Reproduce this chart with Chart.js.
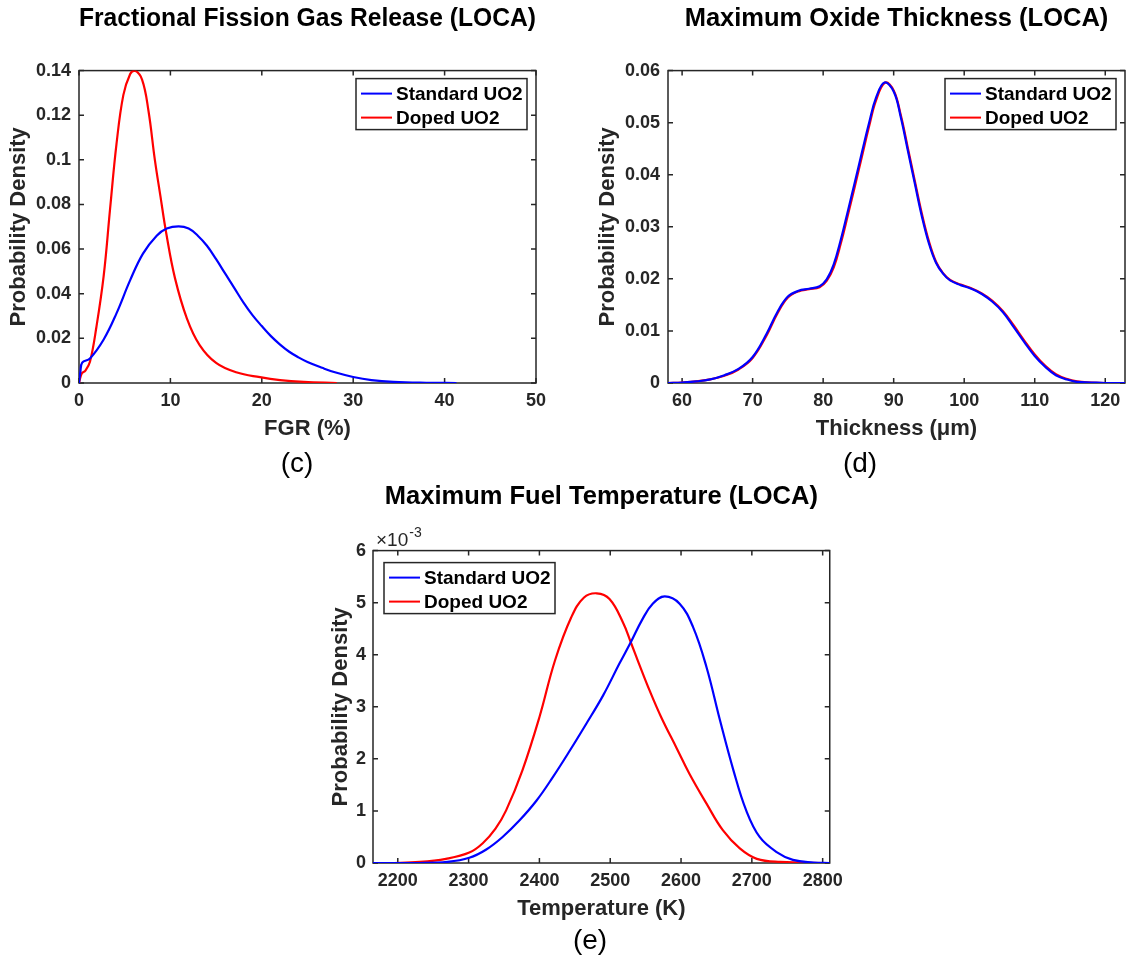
<!DOCTYPE html>
<html>
<head>
<meta charset="utf-8">
<script src="https://cdn.jsdelivr.net/npm/chart.js@4.4.1/dist/chart.umd.min.js"></script>
<style>
  body { margin: 0; background: #fff; }
  #page { position: relative; width: 1128px; height: 961px; font-family: "Liberation Sans", Arial, sans-serif; }
  #page canvas { position: absolute; }
  .tag { position: absolute; font-size: 28px; color: #000; transform: translate(-50%, -50%); }
</style>
</head>
<body>
<div id="page">
  <canvas id="fgrChart" width="560" height="450" style="left:0;top:0"></canvas>
  <canvas id="oxideChart" width="539" height="450" style="left:589px;top:0"></canvas>
  <canvas id="tempChart" width="533" height="460" style="left:317px;top:470px"></canvas>
  <div class="tag" style="left:297px;top:463px">(c)</div>
  <div class="tag" style="left:860px;top:463px">(d)</div>
  <div class="tag" style="left:590px;top:940px">(e)</div>
</div>
<script>
const seriesLabels = ["Standard UO2", "Doped UO2"];

// (c) fission gas release, [FGR %, density]
const fgrStandard = [[0, 0], [0.15, 0.005], [0.35, 0.0091], [1.2, 0.011], [2.7, 0.0195], [4.1, 0.0312],
  [5.6, 0.0461], [7, 0.058], [8.5, 0.066], [9.6, 0.0692], [10.9, 0.0702], [12, 0.0692], [13, 0.066],
  [14, 0.0615], [15, 0.0555], [16, 0.049], [17, 0.0425], [18, 0.036], [19, 0.0303], [20, 0.0255],
  [21, 0.021], [22, 0.0172], [23, 0.014], [24, 0.0115], [25, 0.0094], [26.6, 0.0068], [28, 0.0048],
  [30, 0.0027], [32, 0.0013], [34.4, 0.0005], [38, 0.0001], [41.3, 0]];
const fgrDoped = [[0, 0], [0.3, 0.0043], [0.7, 0.0055], [1.2, 0.0095], [1.9, 0.025], [2.7, 0.048],
  [3.4, 0.078], [4.1, 0.107], [4.85, 0.129], [5.6, 0.1385], [6.1, 0.14], [6.9, 0.136], [7.6, 0.122],
  [8.3, 0.1], [8.9, 0.084], [9.55, 0.067], [10.5, 0.047], [11.8, 0.029], [13.2, 0.017], [15, 0.009],
  [17.2, 0.0048], [19.8, 0.0026], [22, 0.0013], [24.6, 0.0005], [28.2, 0]];
const fgrTicks = [0, 10, 20, 30, 40, 50];
const fgrDensityTicks = [0, 0.02, 0.04, 0.06, 0.08, 0.1, 0.12, 0.14];

// (d) oxide thickness, [um, density]
const oxideStandard = [[58, 0], [60, 0.0001], [62, 0.0003], [64, 0.0007], [66, 0.0015], [68, 0.0027],
  [70, 0.005], [72, 0.0095], [73.5, 0.0136], [75, 0.0166], [76.5, 0.0177], [78, 0.0181], [79.5, 0.0186],
  [80.5, 0.0199], [81.5, 0.0228], [82.5, 0.0275], [83.5, 0.033], [84.5, 0.0386], [85.5, 0.0443],
  [86.5, 0.0499], [87.5, 0.0548], [88.7, 0.0577], [90, 0.056], [91, 0.0511], [92, 0.0447], [93, 0.0383],
  [94, 0.032], [95, 0.0268], [96, 0.0231], [97, 0.021], [98, 0.0197], [99.5, 0.0188], [101, 0.0181],
  [102.5, 0.0171], [104, 0.0156], [105.5, 0.0136], [107, 0.0108], [108.5, 0.0079], [110, 0.0052],
  [111.5, 0.0031], [113, 0.0015], [114.5, 0.0007], [116, 0.0002], [118, 0.0001], [120, 0], [122.8, 0]];
const oxideDoped = [[58, 0], [60, 0.0001], [62, 0.0003], [64, 0.0007], [66, 0.0014], [68, 0.0026],
  [70, 0.0048], [72, 0.0092], [73.5, 0.0133], [75, 0.0164], [76.5, 0.0176], [78, 0.018], [79.5, 0.0184],
  [80.5, 0.0196], [81.5, 0.0222], [82.5, 0.0268], [83.5, 0.0322], [84.5, 0.0378], [85.5, 0.0435],
  [86.5, 0.0492], [87.5, 0.0543], [88.8, 0.0577], [90, 0.0562], [91, 0.0515], [92, 0.0452], [93, 0.0388],
  [94, 0.0325], [95, 0.0272], [96, 0.0233], [97, 0.0211], [98, 0.0198], [99.5, 0.0189], [101, 0.0182],
  [102.5, 0.0172], [104, 0.0158], [105.5, 0.0138], [107, 0.0111], [108.5, 0.0082], [110, 0.0055],
  [111.5, 0.0033], [113, 0.0017], [114.5, 0.0008], [116, 0.0003], [118, 0.0001], [120, 0], [122.8, 0]];
const oxideTicks = [60, 70, 80, 90, 100, 110, 120];
const oxideDensityTicks = [0, 0.01, 0.02, 0.03, 0.04, 0.05, 0.06];

// (e) fuel temperature, [K, density x1e-3]
const tempStandard = [[2165, 0], [2231, 0], [2270, 0.02], [2301, 0.1], [2325, 0.26], [2348, 0.5],
  [2372, 0.82], [2396, 1.2], [2419, 1.65], [2443, 2.16], [2466, 2.67], [2490, 3.22], [2513, 3.83],
  [2529, 4.24], [2545, 4.67], [2560, 4.98], [2577, 5.12], [2598, 4.98], [2617, 4.53], [2636, 3.76],
  [2655, 2.74], [2674, 1.78], [2692, 1.01], [2711, 0.5], [2735, 0.21], [2758, 0.06], [2787, 0.01], [2810, 0]];
const tempDoped = [[2188, 0], [2231, 0.02], [2268, 0.08], [2301, 0.2], [2320, 0.38], [2338, 0.66],
  [2353, 1.01], [2376, 1.78], [2400, 2.8], [2422, 3.89], [2445, 4.72], [2463, 5.1], [2481, 5.18],
  [2499, 5.07], [2518, 4.62], [2529, 4.24], [2540, 3.85], [2556, 3.3], [2572, 2.8], [2594, 2.2],
  [2612, 1.71], [2636, 1.14], [2659, 0.63], [2683, 0.28], [2707, 0.08], [2740, 0.02], [2806, 0]];
const tempTicks = [2200, 2300, 2400, 2500, 2600, 2700, 2800];
const tempDensityTicks = [0, 1, 2, 3, 4, 5, 6];

const FONT = '"Liberation Sans", Arial, sans-serif';
const AXIS = "#262626";
Chart.defaults.font.family = FONT;

const toPoints = (pairs) => pairs.map(([x, y]) => ({ x, y }));
const plainNum = (v) => String(+v.toFixed(4));

// matlab style box with inward ticks on all four sides
const axesBox = {
  id: "axesBox",
  beforeDatasetsDraw(chart) {
    const { ctx, chartArea: a, scales: { x, y } } = chart;
    ctx.save();
    ctx.strokeStyle = AXIS;
    ctx.lineWidth = 1.5;
    ctx.strokeRect(a.left, a.top, a.width, a.height);
    ctx.beginPath();
    x.ticks.forEach((t) => {
      const p = x.getPixelForValue(t.value);
      ctx.moveTo(p, a.bottom); ctx.lineTo(p, a.bottom - 5);
      ctx.moveTo(p, a.top); ctx.lineTo(p, a.top + 5);
    });
    y.ticks.forEach((t) => {
      const p = y.getPixelForValue(t.value);
      ctx.moveTo(a.left, p); ctx.lineTo(a.left + 5, p);
      ctx.moveTo(a.right, p); ctx.lineTo(a.right - 5, p);
    });
    ctx.stroke();
    ctx.restore();
  },
};

// legend in a framed box inside the axes
const boxLegend = {
  id: "boxLegend",
  afterDatasetsDraw(chart, args, opts) {
    const { ctx, chartArea: a } = chart;
    const w = 171, h = 51;
    const left = opts.side === "left" ? a.left + 11 : a.right - 9 - w;
    const top = a.top + opts.top;
    ctx.save();
    ctx.fillStyle = "#fff";
    ctx.fillRect(left, top, w, h);
    ctx.strokeStyle = AXIS;
    ctx.lineWidth = 1.5;
    ctx.strokeRect(left, top, w, h);
    ctx.font = "bold 19px " + FONT;
    ctx.textBaseline = "middle";
    chart.data.datasets.forEach((ds, i) => {
      const yy = top + 15 + i * 24;
      ctx.strokeStyle = ds.borderColor;
      ctx.lineWidth = 2;
      ctx.beginPath();
      ctx.moveTo(left + 5, yy);
      ctx.lineTo(left + 36, yy);
      ctx.stroke();
      ctx.fillStyle = "#000";
      ctx.fillText(ds.label, left + 40, yy + 1);
    });
    ctx.restore();
  },
};

// "x10^-3" multiplier over the y axis
const expLabel = {
  id: "expLabel",
  afterDraw(chart) {
    const { ctx, chartArea: a } = chart;
    ctx.save();
    ctx.fillStyle = AXIS;
    ctx.textBaseline = "alphabetic";
    ctx.font = "19px " + FONT;
    ctx.fillText("\u00d710", a.left + 3, a.top - 5);
    const w = ctx.measureText("\u00d710").width;
    ctx.font = "14px " + FONT;
    ctx.fillText("-3", a.left + 4 + w, a.top - 14);
    ctx.restore();
  },
};

function pdfChart(id, c) {
  return new Chart(document.getElementById(id), {
    type: "line",
    data: {
      datasets: [
        { label: seriesLabels[0], data: toPoints(c.standard), borderColor: "#0000ff" },
        { label: seriesLabels[1], data: toPoints(c.doped), borderColor: "#ff0000" },
      ],
    },
    options: {
      responsive: false,
      animation: false,
      layout: { padding: { left: 0, right: c.padRight, top: 0, bottom: 0 } },
      elements: {
        point: { radius: 0 },
        line: { borderWidth: 2.2, tension: 0.4 },
      },
      plugins: {
        legend: { display: false },
        tooltip: { enabled: false },
        title: {
          display: true,
          text: c.title,
          fullSize: false,
          color: "#000",
          font: { size: 25.5, weight: "bold" },
          padding: { top: c.titleTop, bottom: c.titleBottom },
        },
        boxLegend: { side: c.legendSide, top: c.legendTop },
      },
      scales: {
        x: {
          type: "linear",
          min: c.xMin,
          max: c.xMax,
          afterBuildTicks: (s) => { s.ticks = c.xTicks.map((v) => ({ value: v })); },
          afterFit: (s) => { s.height = 67; },
          grid: { display: false, drawTicks: false },
          border: { display: false },
          ticks: {
            autoSkip: false, maxRotation: 0, padding: 7, color: AXIS, font: { size: 18, weight: "bold" },
            callback: plainNum,
          },
          title: { display: true, text: c.xTitle, color: AXIS, font: { size: 22, weight: "bold" }, padding: { top: 0, bottom: 8 } },
        },
        y: {
          min: 0,
          max: c.yTicks[c.yTicks.length - 1],
          afterBuildTicks: (s) => { s.ticks = c.yTicks.map((v) => ({ value: v })); },
          afterFit: (s) => { s.width = c.yWidth; },
          grid: { display: false, drawTicks: false },
          border: { display: false },
          ticks: {
            autoSkip: false, padding: c.yPad, color: AXIS, font: { size: 18, weight: "bold" },
            callback: plainNum,
          },
          title: { display: true, text: "Probability Density", color: AXIS, font: { size: 22, weight: "bold" }, padding: { top: c.yTitlePad, bottom: 0 } },
        },
      },
    },
    plugins: [axesBox, boxLegend].concat(c.extra || []),
  });
}

pdfChart("fgrChart", {
  title: "Fractional Fission Gas Release (LOCA)", xTitle: "FGR (%)",
  standard: fgrStandard, doped: fgrDoped, xTicks: fgrTicks, yTicks: fgrDensityTicks,
  xMin: 0, xMax: 50, yWidth: 79, yPad: 8, yTitlePad: 6, padRight: 24,
  titleTop: 4, titleBottom: 36, legendSide: "right", legendTop: 8,
});

pdfChart("oxideChart", {
  title: "Maximum Oxide Thickness (LOCA)", xTitle: "Thickness (\u03bcm)",
  standard: oxideStandard, doped: oxideDoped, xTicks: oxideTicks, yTicks: oxideDensityTicks,
  xMin: 58, xMax: 122.8, yWidth: 79, yPad: 8, yTitlePad: 6, padRight: 3,
  titleTop: 4, titleBottom: 36, legendSide: "right", legendTop: 8,
});

pdfChart("tempChart", {
  title: "Maximum Fuel Temperature (LOCA)", xTitle: "Temperature (K)",
  standard: tempStandard, doped: tempDoped, xTicks: tempTicks, yTicks: tempDensityTicks,
  xMin: 2165, xMax: 2810, yWidth: 56, yPad: 7, yTitlePad: 11, padRight: 20,
  titleTop: 12, titleBottom: 38, legendSide: "left", legendTop: 12, extra: [expLabel],
});
</script>
</body>
</html>
